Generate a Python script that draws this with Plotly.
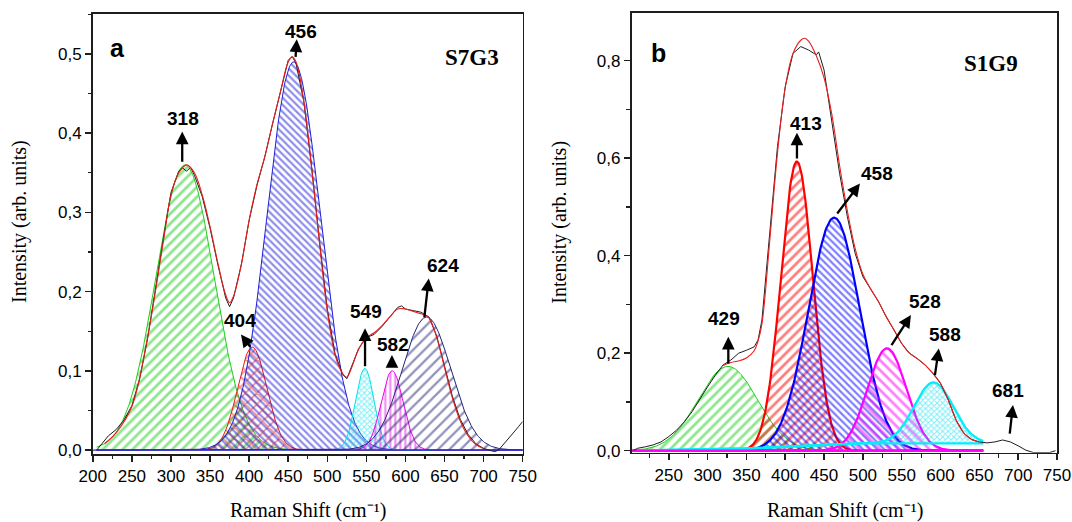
import numpy as np
import plotly.graph_objects as go

# ---------------- Panel a : S7G3 ----------------
a_spec_x = [205, 210, 215, 220, 230, 240, 250, 260, 270, 280, 290, 300, 310, 315, 320, 325, 330, 340, 350,
            360, 370, 375, 380, 390, 400, 410, 420, 430, 440, 450, 455, 460, 470, 480, 490, 500, 510, 520,
            525, 530, 540, 550, 560, 570, 580, 590, 595, 600, 610, 620, 630, 640, 650, 660, 670, 680, 690,
            700, 710, 715, 720, 730, 740, 745, 750]
a_spec_y = [0.000, 0.006, 0.012, 0.018, 0.026, 0.038, 0.056, 0.090, 0.140, 0.205, 0.265, 0.325, 0.352, 0.356,
            0.352, 0.357, 0.347, 0.320, 0.280, 0.234, 0.192, 0.181, 0.192, 0.234, 0.290, 0.334, 0.370, 0.412,
            0.452, 0.492, 0.497, 0.488, 0.440, 0.357, 0.264, 0.178, 0.121, 0.095, 0.090, 0.102, 0.128, 0.142,
            0.146, 0.156, 0.168, 0.180, 0.182, 0.178, 0.176, 0.174, 0.168, 0.144, 0.106, 0.068, 0.039, 0.020,
            0.008, 0.002, -0.001, -0.002, 0.001, 0.012, 0.024, 0.030, 0.036]

a_fit_x = [215, 230, 250, 270, 290, 300, 310, 320, 330, 340, 350, 360, 370, 375, 380, 390, 400, 410, 420,
           430, 440, 450, 455, 460, 470, 480, 490, 500, 510, 520, 525, 530, 540, 550, 560, 570, 580, 590,
           600, 610, 620, 630, 640, 650, 660, 670, 680, 690, 700]
a_fit_y = [0.008, 0.022, 0.055, 0.142, 0.262, 0.322, 0.350, 0.360, 0.350, 0.322, 0.282, 0.236, 0.196, 0.186,
           0.194, 0.234, 0.290, 0.335, 0.370, 0.412, 0.452, 0.490, 0.496, 0.490, 0.440, 0.356, 0.262, 0.176,
           0.120, 0.096, 0.092, 0.101, 0.127, 0.142, 0.148, 0.157, 0.168, 0.178, 0.178, 0.175, 0.172, 0.167,
           0.142, 0.104, 0.066, 0.037, 0.018, 0.007, 0.002]

a_labels = ["318", "404", "456", "549", "582", "624"]
a_center = [318, 404, 457, 548, 583, 627]
a_height = [0.360, 0.130, 0.490, 0.103, 0.100, 0.168]
a_fwhm = [88, 44, 80, 28, 33, 73]

# ---------------- Panel b : S1G9 ----------------
b_spec_x = [205, 210, 220, 230, 240, 250, 260, 270, 280, 290, 300, 310, 320, 330, 340, 350, 360, 365, 370,
            380, 390, 400, 410, 420, 430, 440, 443, 450, 460, 470, 480, 490, 500, 510, 520, 530, 540, 550,
            560, 570, 580, 590, 600, 610, 620, 630, 640, 650, 660, 670, 680, 690, 700, 710, 720, 730, 740,
            748]
b_spec_y = [0.001, 0.005, 0.008, 0.012, 0.018, 0.029, 0.042, 0.059, 0.080, 0.107, 0.131, 0.155, 0.176, 0.186,
            0.200, 0.206, 0.213, 0.227, 0.268, 0.446, 0.624, 0.747, 0.815, 0.829, 0.822, 0.812, 0.818, 0.781,
            0.678, 0.569, 0.480, 0.405, 0.357, 0.330, 0.306, 0.275, 0.248, 0.220, 0.200, 0.189, 0.176, 0.159,
            0.138, 0.104, 0.063, 0.036, 0.023, 0.018, 0.016, 0.018, 0.022, 0.018, 0.010, 0.001, -0.004, -0.004,
            -0.004, 0.000]

b_fit_x = [320, 330, 340, 350, 360, 365, 370, 380, 390, 400, 410, 420, 425, 430, 440, 450, 460, 470, 480,
           490, 500, 510, 520, 530, 540, 550, 560, 570, 580, 590, 600, 610, 620, 630, 640, 650]
b_fit_y = [0.175, 0.181, 0.184, 0.190, 0.205, 0.225, 0.260, 0.430, 0.610, 0.745, 0.815, 0.842, 0.846, 0.840,
           0.810, 0.765, 0.690, 0.585, 0.492, 0.415, 0.362, 0.332, 0.306, 0.275, 0.248, 0.220, 0.200, 0.189,
           0.176, 0.159, 0.138, 0.104, 0.063, 0.036, 0.023, 0.018]

b_labels = ["429", "413", "458", "528", "588", "681"]
b_center = [326, 415, 463, 531, 591]
b_height = [0.173, 0.593, 0.478, 0.210, 0.125]
b_fwhm = [90, 48, 78, 59, 59]
b_cyan_base_x = [202, 330, 480, 655]
b_cyan_base_y = [0.000, 0.003, 0.015, 0.015]


def gauss(x, c, h, w):
    return h * np.exp(-4 * np.log(2) * (x - c) ** 2 / w ** 2)


fig = go.Figure()

a_styles = [
    dict(color="rgb(30,205,30)", shape="/", size=7, sol=0.4),
    dict(color="rgb(235,25,25)", shape="x", size=8, sol=0.35),
    dict(color="rgb(30,30,215)", shape="\\", size=5, sol=0.45),
    dict(color="rgb(0,225,235)", shape="x", size=4, sol=0.45),
    dict(color="rgb(235,0,235)", shape="|", size=5, sol=0.4),
    dict(color="rgb(35,35,120)", shape="/", size=8, sol=0.28),
]
xa = np.arange(205, 751, 1.0)
for c, h, w, st in zip(a_center, a_height, a_fwhm, a_styles):
    fig.add_trace(go.Scatter(
        x=xa, y=gauss(xa, c, h, w), mode="lines", xaxis="x", yaxis="y",
        line=dict(color=st["color"], width=1), fill="tozeroy", fillcolor="rgba(0,0,0,0)",
        fillpattern=dict(shape=st["shape"], fgcolor=st["color"], bgcolor="rgba(0,0,0,0)",
                         size=st["size"], solidity=st["sol"]),
        hoverinfo="skip", showlegend=False))
fig.add_trace(go.Scatter(x=[200, 750], y=[0, 0], mode="lines", xaxis="x", yaxis="y",
                         line=dict(color="rgb(45,45,200)", width=1.2), showlegend=False))
fig.add_trace(go.Scatter(x=a_spec_x, y=a_spec_y, mode="lines", xaxis="x", yaxis="y",
                         line=dict(color="rgb(30,30,30)", width=1), showlegend=False))
fig.add_trace(go.Scatter(x=a_fit_x, y=a_fit_y, mode="lines", xaxis="x", yaxis="y",
                         line=dict(color="rgb(230,30,30)", width=1.1, shape="spline"), showlegend=False))

b_styles = [
    dict(color="rgb(30,205,30)", shape="/", size=7, width=1, sol=0.4),
    dict(color="rgb(255,0,0)", shape="/", size=7, width=2.2, sol=0.4),
    dict(color="rgb(0,0,255)", shape="\\", size=5, width=2.2, sol=0.45),
    dict(color="rgb(255,0,255)", shape="\\", size=7, width=2.2, sol=0.4),
]
xb = np.arange(202, 656, 1.0)
for c, h, w, st in zip(b_center[:4], b_height[:4], b_fwhm[:4], b_styles):
    fig.add_trace(go.Scatter(
        x=xb, y=gauss(xb, c, h, w), mode="lines", xaxis="x2", yaxis="y2",
        line=dict(color=st["color"], width=st["width"]), fill="tozeroy", fillcolor="rgba(0,0,0,0)",
        fillpattern=dict(shape=st["shape"], fgcolor=st["color"], bgcolor="rgba(0,0,0,0)",
                         size=st["size"], solidity=st["sol"]),
        hoverinfo="skip", showlegend=False))
cyan_base = np.interp(xb, b_cyan_base_x, b_cyan_base_y)
fig.add_trace(go.Scatter(x=xb, y=cyan_base, mode="lines", xaxis="x2", yaxis="y2",
                         line=dict(color="rgb(0,240,250)", width=2.4), showlegend=False, hoverinfo="skip"))
fig.add_trace(go.Scatter(
    x=xb, y=cyan_base + gauss(xb, b_center[4], b_height[4], b_fwhm[4]), mode="lines",
    xaxis="x2", yaxis="y2", line=dict(color="rgb(0,240,250)", width=2.4), fill="tonexty",
    fillcolor="rgba(0,0,0,0)",
    fillpattern=dict(shape="x", fgcolor="rgb(0,220,240)", bgcolor="rgba(0,0,0,0)", size=4, solidity=0.45),
    hoverinfo="skip", showlegend=False))
fig.add_trace(go.Scatter(x=[202, 655], y=[0, 0], mode="lines", xaxis="x2", yaxis="y2",
                         line=dict(color="rgb(255,0,255)", width=2.4), showlegend=False))
fig.add_trace(go.Scatter(x=b_spec_x, y=b_spec_y, mode="lines", xaxis="x2", yaxis="y2",
                         line=dict(color="rgb(30,30,30)", width=1), showlegend=False))
fig.add_trace(go.Scatter(x=b_fit_x, y=b_fit_y, mode="lines", xaxis="x2", yaxis="y2",
                         line=dict(color="rgb(235,30,30)", width=1.1, shape="spline"), showlegend=False))

W, H = 1072, 522
def px(x):
    return x / W
def py(y):
    return 1 - y / H

tickfont = dict(family="Liberation Sans, Arial, sans-serif", size=17, color="black")
axis_common = dict(showline=True, linecolor="rgb(30,30,30)", linewidth=1.7, mirror=True,
                   ticks="outside", ticklen=6, tickwidth=1.5, tickcolor="rgb(30,30,30)",
                   showgrid=False, zeroline=False, tickfont=tickfont, automargin=False)
minor_style = dict(ticks="outside", ticklen=3.5, tickwidth=1.2, tickcolor="rgb(30,30,30)")

fig.update_layout(
    width=W, height=H, margin=dict(l=0, r=0, t=0, b=0, autoexpand=False),
    paper_bgcolor="white", plot_bgcolor="white", separators=",.", showlegend=False,
    xaxis=dict(domain=[px(92.8), px(522.7)], range=[200, 750], anchor="y", tick0=200, dtick=50,
               minor=dict(dtick=25, **minor_style), **axis_common),
    yaxis=dict(domain=[py(454), py(14)], range=[-0.005, 0.5505], anchor="x", tick0=0, dtick=0.1,
               tickformat=".1f", minor=dict(dtick=0.05, **minor_style), **axis_common),
    xaxis2=dict(domain=[px(631.5), px(1057)], range=[202, 750], anchor="y2", tick0=250, dtick=50,
                minor=dict(dtick=25, **minor_style), **axis_common),
    yaxis2=dict(domain=[py(452.7), py(12.7)], range=[-0.0041, 0.8985], anchor="x2", tick0=0, dtick=0.2,
                tickformat=".1f", minor=dict(dtick=0.1, **minor_style), **axis_common),
)

serif = "Liberation Serif, Times New Roman, serif"
sans = "Liberation Sans, Arial, sans-serif"
ann = []
for (x, y, t, ang) in [(19, 222, "Intensity (arb. units)", -90), (558.7, 222, "Intensity (arb. units)", -90),
                       (307.5, 510, "Raman Shift (cm\u207b\u00b9)", 0),
                       (845.4, 510, "Raman Shift (cm\u207b\u00b9)", 0)]:
    ann.append(dict(x=px(x), y=py(y), xref="paper", yref="paper", text=t, showarrow=False, textangle=ang,
                    font=dict(family=serif, size=20, color="black"), xanchor="center", yanchor="middle"))
ann.append(dict(x=px(117.3), y=py(48.3), xref="paper", yref="paper", text="<b>a</b>", showarrow=False,
                font=dict(family=sans, size=25, color="black"), xanchor="center", yanchor="middle"))
ann.append(dict(x=px(658), y=py(53.3), xref="paper", yref="paper", text="<b>b</b>", showarrow=False,
                font=dict(family=sans, size=25, color="black"), xanchor="center", yanchor="middle"))
ann.append(dict(x=px(471.8), y=py(57.3), xref="paper", yref="paper", text="<b>S7G3</b>", showarrow=False,
                font=dict(family=serif, size=23, color="black"), xanchor="center", yanchor="middle"))
ann.append(dict(x=px(991.3), y=py(63.3), xref="paper", yref="paper", text="<b>S1G9</b>", showarrow=False,
                font=dict(family=serif, size=23, color="black"), xanchor="center", yanchor="middle"))

a_text_pos = [(316, 0.419), (388.3, 0.163), (465.9, 0.529), (549.2, 0.1746), (584.5, 0.1338), (647.4, 0.2327)]
a_arrow_tail = [(314.4, 0.362), (402.9, 0.1284), (459.3, 0.4945), (548.3, 0.104), (582.7, 0.103), (624, 0.166)]
a_arrow_tip = [(314.4, 0.402), (389.6, 0.146), (461, 0.5185), (548.3, 0.1537), (582.7, 0.12), (629.8, 0.2167)]
b_text_pos = [(321, 0.2715), (426.1, 0.6715), (518.1, 0.569), (579.4, 0.3056), (605.7, 0.2386), (686.7, 0.1244)]
b_arrow_tail = [(326.7, 0.1757), (415.1, 0.5962), (465.5, 0.4834), (535.6, 0.2133), (592.5, 0.1518), (688.9, 0.0321)]
b_arrow_tip = [(326.7, 0.2338), (415.1, 0.6523), (496.2, 0.548), (561.9, 0.2783), (597.8, 0.2099), (693.3, 0.0937)]

for labels, tp, tl, ti, xr, yr in [(a_labels, a_text_pos, a_arrow_tail, a_arrow_tip, "x", "y"),
                                   (b_labels, b_text_pos, b_arrow_tail, b_arrow_tip, "x2", "y2")]:
    for lab, (tx, ty), (ax, ay), (hx, hy) in zip(labels, tp, tl, ti):
        ann.append(dict(x=tx, y=ty, xref=xr, yref=yr, text="<b>%s</b>" % lab, showarrow=False,
                        font=dict(family=sans, size=19, color="black"), xanchor="center", yanchor="middle"))
        ann.append(dict(x=hx, y=hy, ax=ax, ay=ay, xref=xr, yref=yr, axref=xr, ayref=yr, text="",
                        showarrow=True, arrowhead=2, arrowsize=1.1, arrowwidth=2.3, arrowcolor="black"))

fig.update_layout(annotations=ann)
fig.write_html(
    "out.html",
    config={"displayModeBar": False, "staticPlot": True},
    post_script=("document.body.style.margin='0px';document.body.style.overflow='hidden';"
                 "document.querySelectorAll('svg text').forEach(function(t){"
                 "if(!t.textContent.trim()){t.parentNode.removeChild(t);}});"),
)
